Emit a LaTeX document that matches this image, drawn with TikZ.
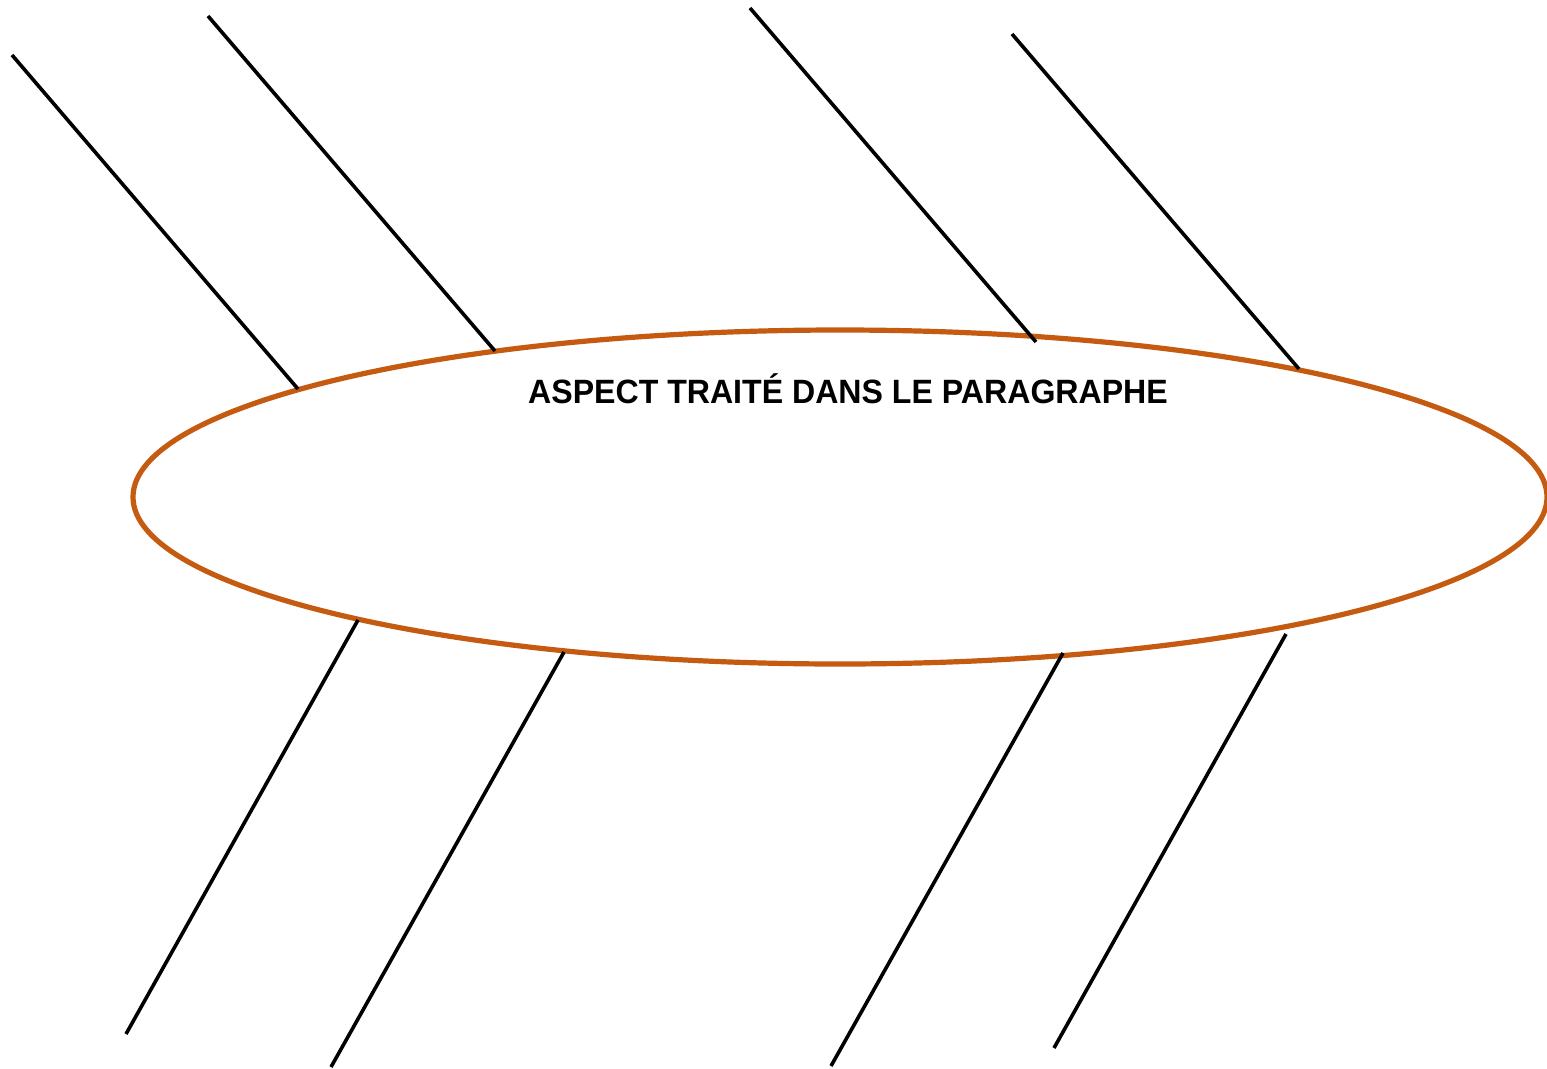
\documentclass[tikz,border=0pt]{standalone}
\usepackage{fontspec}
\setmainfont{Liberation Sans}
\usetikzlibrary{shapes.geometric}
\definecolor{ellorange}{RGB}{197,90,17}
\begin{document}
\begin{tikzpicture}[x=1pt,y=-1pt,
  spoke/.style={draw=black,line width=3.6pt},
  rim/.style={draw=ellorange,line width=5.2pt}]
\useasboundingbox (0,0) rectangle (1547,1068);
\clip (0,0) rectangle (1547,1068);
\node[rim,ellipse,minimum width=1414pt,minimum height=334pt,inner sep=0pt] (ell) at (840,497) {};
\node[font=\bfseries\fontsize{32.1}{38}\selectfont,inner sep=0pt,yscale=1.05] (title) at (848,389) {ASPECT TRAITÉ DANS LE PARAGRAPHE};
\coordinate (a1) at (12,55);   \coordinate (b1) at (298,389);
\coordinate (a2) at (208,16);  \coordinate (b2) at (495,351);
\coordinate (a3) at (750,8);   \coordinate (b3) at (1036,342);
\coordinate (a4) at (1012,34); \coordinate (b4) at (1299,369);
\coordinate (a5) at (358,620); \coordinate (b5) at (126,1034);
\coordinate (a6) at (564,652); \coordinate (b6) at (331,1067);
\coordinate (a7) at (1063,653);\coordinate (b7) at (831,1066);
\coordinate (a8) at (1286,634);\coordinate (b8) at (1054,1048);
\foreach \i in {1,...,8} {\draw[spoke] (a\i) -- (b\i);}
\end{tikzpicture}
\end{document}
